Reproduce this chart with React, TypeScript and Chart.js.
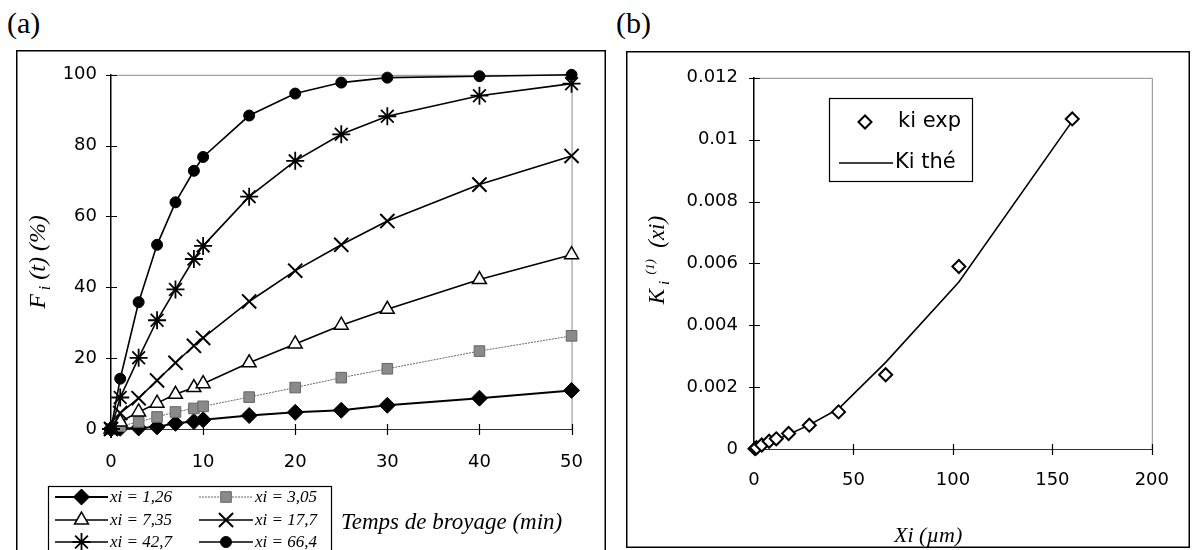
import React, { useEffect, useRef } from "react";
import { Chart, registerables } from "chart.js";
Chart.register(...registerables);

// ---------- Data: panel (a) ----------
const times = [0, 1, 3, 5, 7, 9, 10, 15, 20, 25, 30, 40, 50];
const s126 = [0, 0.2, 0.3, 0.6, 1.6, 2.1, 2.6, 3.8, 4.7, 5.3, 6.7, 8.7, 10.9];
const s305 = [0, 0.8, 2.0, 3.4, 4.8, 5.8, 6.4, 9.0, 11.7, 14.5, 17.0, 22.0, 26.3];
const s735 = [0, 2.0, 4.8, 7.3, 9.8, 11.7, 12.8, 18.7, 24.0, 29.3, 33.8, 42.2, 49.2];
const s177 = [0, 4.5, 8.7, 13.7, 18.7, 23.5, 25.7, 36.0, 44.7, 52.0, 58.7, 69.0, 77.1];
const s427 = [0, 8.9, 20.1, 30.7, 39.4, 48.0, 51.7, 65.6, 75.7, 83.2, 88.3, 94.1, 97.5];
const s664 = [0, 14.2, 35.8, 52.0, 64.0, 72.9, 76.8, 88.5, 94.7, 97.8, 99.2, 99.6, 100];
const seriesLabels = ["xi = 1,26", "xi = 3,05", "xi = 7,35", "xi = 17,7", "xi = 42,7", "xi = 66,4"];
const leftXTicks = [0, 10, 20, 30, 40, 50];
const leftYTicks = [0, 20, 40, 60, 80, 100];

// ---------- Data: panel (b) ----------
const xiExp = [0.5, 1.26, 3.9, 7.6, 11.2, 17.4, 27.8, 42.5, 66.2, 103, 160];
const kiExp = [0.00001, 0.00004, 0.00013, 0.00025, 0.00033, 0.0005, 0.00077, 0.0012, 0.0024, 0.0059, 0.01067];
const xiThe = [0, 1.26, 3.9, 7.6, 11.2, 17.4, 27.8, 42.5, 66.2, 103, 160];
const kiThe = [0, 0.00003, 0.0001, 0.0002, 0.0003, 0.00047, 0.00078, 0.0013, 0.0028, 0.0054, 0.0106];
const rightXTicks = [0, 50, 100, 150, 200];
const rightYTicks = [0, 0.002, 0.004, 0.006, 0.008, 0.01, 0.012];
const rightLegend = ["ki exp", "Ki thé"];

const SANS = '"DejaVu Sans", "Liberation Sans", Arial, sans-serif';
const SERIF = '"Liberation Serif", "Times New Roman", serif';

function drawMarker(ctx: CanvasRenderingContext2D, style: string, x: number, y: number, r: number, fill: string, stroke: string, lw: number) {
  ctx.save();
  ctx.beginPath();
  ctx.lineWidth = lw;
  ctx.fillStyle = fill;
  ctx.strokeStyle = stroke;
  const q = Math.SQRT1_2 * r;
  if (style === "circle") {
    ctx.arc(x, y, r, 0, Math.PI * 2);
    ctx.fill(); ctx.stroke();
  } else if (style === "rectRot") {
    ctx.moveTo(x - r, y); ctx.lineTo(x, y - r); ctx.lineTo(x + r, y); ctx.lineTo(x, y + r); ctx.closePath();
    ctx.fill(); ctx.stroke();
  } else if (style === "rect") {
    ctx.rect(x - q, y - q, 2 * q, 2 * q);
    ctx.fill(); ctx.stroke();
  } else if (style === "triangle") {
    ctx.moveTo(x, y - r);
    ctx.lineTo(x + Math.sin(2.0944) * r, y - Math.cos(2.0944) * r);
    ctx.lineTo(x + Math.sin(4.18879) * r, y - Math.cos(4.18879) * r);
    ctx.closePath();
    ctx.fill(); ctx.stroke();
  } else if (style === "crossRot" || style === "star") {
    ctx.moveTo(x - q, y - q); ctx.lineTo(x + q, y + q);
    ctx.moveTo(x - q, y + q); ctx.lineTo(x + q, y - q);
    if (style === "star") { ctx.moveTo(x, y - r); ctx.lineTo(x, y + r); ctx.moveTo(x - r, y); ctx.lineTo(x + r, y); }
    ctx.stroke();
  }
  ctx.restore();
}

type Seg = { t: string; font: string; dy: number };
function drawRich(ctx: CanvasRenderingContext2D, segs: Seg[], cx: number, cy: number, rotate: boolean, base: number) {
  ctx.save();
  ctx.translate(cx, cy);
  if (rotate) ctx.rotate(-Math.PI / 2);
  let total = 0;
  for (const s of segs) { ctx.font = s.font; total += ctx.measureText(s.t).width; }
  let x = -total / 2;
  ctx.fillStyle = "#000";
  ctx.textBaseline = "alphabetic";
  ctx.textAlign = "left";
  for (const s of segs) {
    ctx.font = s.font;
    ctx.fillText(s.t, x, base + s.dy);
    x += ctx.measureText(s.t).width;
  }
  ctx.restore();
}

function crossTicks(chart: any, xTicks: number[], yTicks: number[]) {
  const ctx = chart.ctx;
  const { left, right, top, bottom } = chart.chartArea;
  const xs = chart.scales.x, ys = chart.scales.y;
  ctx.save();
  ctx.strokeStyle = "#8a8a8a";
  ctx.lineWidth = 1;
  ctx.beginPath();
  ctx.moveTo(left, top + 0.5); ctx.lineTo(right + 0.5, top + 0.5); ctx.lineTo(right + 0.5, bottom);
  ctx.stroke();
  ctx.strokeStyle = "#000";
  ctx.lineWidth = 1.2;
  ctx.beginPath();
  for (const v of xTicks) {
    const px = Math.round(xs.getPixelForValue(v)) + 0.5;
    ctx.moveTo(px, bottom - 5); ctx.lineTo(px, bottom + 6);
  }
  for (const v of yTicks) {
    const py = Math.round(ys.getPixelForValue(v)) + 0.5;
    ctx.moveTo(left - 5, py); ctx.lineTo(left + 6, py);
  }
  ctx.stroke();
  ctx.restore();
}

const leftStyles = [
  { pointStyle: "rectRot", radius: 8, fill: "#000", stroke: "#000", pw: 1, lineColor: "#000", lw: 2, dash: [] as number[] },
  { pointStyle: "rect", radius: 7.5, fill: "#8a8a8a", stroke: "#666", pw: 1, lineColor: "#666", lw: 1, dash: [2, 1] },
  { pointStyle: "triangle", radius: 8, fill: "#fff", stroke: "#000", pw: 1.5, lineColor: "#000", lw: 1.6, dash: [] as number[] },
  { pointStyle: "crossRot", radius: 10, fill: "#000", stroke: "#000", pw: 2, lineColor: "#000", lw: 1.6, dash: [] as number[] },
  { pointStyle: "star", radius: 9, fill: "#000", stroke: "#000", pw: 1.8, lineColor: "#000", lw: 1.6, dash: [] as number[] },
  { pointStyle: "circle", radius: 5.5, fill: "#000", stroke: "#000", pw: 1, lineColor: "#000", lw: 1.6, dash: [] as number[] },
];

function LeftChart() {
  const ref = useRef<HTMLCanvasElement>(null);
  useEffect(() => {
    const series = [s126, s305, s735, s177, s427, s664];
    const datasets = series.map((s, i) => {
      const st = leftStyles[i];
      return {
        label: seriesLabels[i],
        data: s.map((v, j) => ({ x: times[j], y: v })),
        borderColor: st.lineColor,
        borderWidth: st.lw,
        borderDash: st.dash,
        pointStyle: st.pointStyle,
        pointRadius: st.radius,
        pointBackgroundColor: st.fill,
        pointBorderColor: st.stroke,
        pointBorderWidth: st.pw,
        tension: 0,
        clip: false,
        order: 6 - i,
      };
    });
    const plugin = {
      id: "leftDecor",
      beforeDatasetsDraw(chart: any) {
        crossTicks(chart, leftXTicks, leftYTicks);
      },
      afterDraw(chart: any) {
        const ctx = chart.ctx as CanvasRenderingContext2D;
        ctx.save();
        ctx.strokeStyle = "#000";
        ctx.lineWidth = 1.5;
        ctx.strokeRect(0.75, 0.75, chart.width - 1.5, chart.height + 20);
        drawRich(ctx, [
          { t: "F", font: `italic 24px ${SERIF}`, dy: 0 },
          { t: " i", font: `italic 16px ${SERIF}`, dy: 5 },
          { t: " (t) (%)", font: `italic 24px ${SERIF}`, dy: 0 },
        ], 21, 212, true, 8);
        ctx.font = `italic 23px ${SERIF}`;
        ctx.fillStyle = "#000";
        ctx.textAlign = "left";
        ctx.textBaseline = "alphabetic";
        ctx.fillText("Temps de broyage (min)", 325, 479);
        ctx.strokeStyle = "#000";
        ctx.lineWidth = 1.2;
        ctx.strokeRect(32.5, 436.5, 283, 80);
        const colLine = [[39, 92], [183, 237]];
        const colText = [94, 239];
        const rowY = [447, 470, 492];
        for (let i = 0; i < 6; i++) {
          const st = leftStyles[i];
          const c = i % 2, r = Math.floor(i / 2);
          const y = rowY[r];
          ctx.save();
          ctx.strokeStyle = st.lineColor;
          ctx.lineWidth = st.lw;
          ctx.setLineDash(st.dash);
          ctx.beginPath();
          ctx.moveTo(colLine[c][0], y); ctx.lineTo(colLine[c][1], y);
          ctx.stroke();
          ctx.restore();
          drawMarker(ctx, st.pointStyle, (colLine[c][0] + colLine[c][1]) / 2, y, st.radius, st.fill, st.stroke, st.pw);
          ctx.font = `italic 17px ${SERIF}`;
          ctx.fillStyle = "#000";
          ctx.textAlign = "left";
          ctx.textBaseline = "middle";
          ctx.fillText(seriesLabels[i], colText[c], y + 1);
        }
        ctx.restore();
      },
    };
    const chart = new Chart(ref.current!, {
      type: "line",
      data: { datasets: datasets as any },
      options: {
        responsive: false,
        maintainAspectRatio: false,
        animation: false,
        layout: { padding: { top: 21, right: 18, left: 0, bottom: 0 } },
        plugins: { legend: { display: false }, tooltip: { enabled: false } },
        scales: {
          x: {
            type: "linear",
            min: 0,
            max: 50,
            afterFit: (s: any) => { s.height = 121; },
            afterBuildTicks: (s: any) => { s.ticks = leftXTicks.map((v) => ({ value: v })); },
            grid: { display: false, drawTicks: false },
            border: { display: true, color: "#333", width: 1 },
            ticks: { font: { family: SANS, size: 18 }, color: "#000", padding: 23, maxRotation: 0 },
          },
          y: {
            type: "linear",
            min: 0,
            max: 100,
            afterFit: (s: any) => { s.width = 95; },
            afterBuildTicks: (s: any) => { s.ticks = leftYTicks.map((v) => ({ value: v })); },
            grid: { display: false, drawTicks: false },
            border: { display: true, color: "#000", width: 1.5 },
            ticks: { font: { family: SANS, size: 18 }, color: "#000", padding: 14 },
          },
        },
      },
      plugins: [plugin],
    });
    return () => chart.destroy();
  }, []);
  return <canvas ref={ref} width={590} height={500} style={{ position: "absolute", left: 16, top: 50, width: 590, height: 500 }} />;
}

function RightChart() {
  const ref = useRef<HTMLCanvasElement>(null);
  useEffect(() => {
    const plugin = {
      id: "rightDecor",
      beforeDatasetsDraw(chart: any) {
        crossTicks(chart, rightXTicks, rightYTicks);
      },
      afterDraw(chart: any) {
        const ctx = chart.ctx as CanvasRenderingContext2D;
        ctx.save();
        ctx.strokeStyle = "#000";
        ctx.lineWidth = 1.5;
        ctx.strokeRect(0.75, 0.75, chart.width - 1.5, chart.height - 1.5);
        drawRich(ctx, [
          { t: "K", font: `italic 23px ${SERIF}`, dy: 0 },
          { t: " i", font: `italic 15px ${SERIF}`, dy: 5 },
          { t: "  (1)", font: `italic 13px ${SERIF}`, dy: -10 },
          { t: "  (xi)", font: `italic 23px ${SERIF}`, dy: 0 },
        ], 31, 209, true, 7);
        ctx.font = `italic 22px ${SERIF}`;
        ctx.fillStyle = "#000";
        ctx.textAlign = "left";
        ctx.textBaseline = "alphabetic";
        ctx.fillText("Xi (µm)", 268, 491);
        ctx.fillStyle = "#fff";
        ctx.fillRect(203, 47, 143, 83);
        ctx.strokeStyle = "#000";
        ctx.lineWidth = 1.2;
        ctx.strokeRect(203.5, 47.5, 143, 83);
        drawMarker(ctx, "rectRot", 239, 71, 6.5, "#fff", "#000", 2);
        ctx.beginPath();
        ctx.lineWidth = 1.5;
        ctx.moveTo(213, 112); ctx.lineTo(267, 112);
        ctx.stroke();
        ctx.font = `21px ${SANS}`;
        ctx.fillStyle = "#000";
        ctx.textAlign = "left";
        ctx.textBaseline = "middle";
        ctx.fillText(rightLegend[0], 272, 71);
        ctx.fillText(rightLegend[1], 269, 112);
        ctx.restore();
      },
    };
    const chart = new Chart(ref.current!, {
      type: "line",
      data: {
        datasets: [
          {
            label: rightLegend[0],
            data: xiExp.map((x, i) => ({ x, y: kiExp[i] })),
            showLine: false,
            pointStyle: "rectRot",
            pointRadius: 6.5,
            pointBackgroundColor: "#fff",
            pointBorderColor: "#000",
            pointBorderWidth: 2,
            clip: false,
            order: 0,
          },
          {
            label: rightLegend[1],
            data: xiThe.map((x, i) => ({ x, y: kiThe[i] })),
            borderColor: "#000",
            borderWidth: 1.6,
            pointRadius: 0,
            tension: 0,
            order: 1,
          },
        ] as any,
      },
      options: {
        responsive: false,
        maintainAspectRatio: false,
        animation: false,
        layout: { padding: { top: 19, right: 18, left: 0, bottom: 0 } },
        plugins: { legend: { display: false }, tooltip: { enabled: false } },
        scales: {
          x: {
            type: "linear",
            min: 0,
            max: 200,
            afterFit: (s: any) => { s.height = 99; },
            afterBuildTicks: (s: any) => { s.ticks = rightXTicks.map((v) => ({ value: v })); },
            grid: { display: false, drawTicks: false },
            border: { display: true, color: "#333", width: 1 },
            ticks: { font: { family: SANS, size: 18 }, color: "#000", padding: 21, maxRotation: 0 },
          },
          y: {
            type: "linear",
            min: 0,
            max: 0.012,
            afterFit: (s: any) => { s.width = 128; },
            afterBuildTicks: (s: any) => { s.ticks = rightYTicks.map((v) => ({ value: v })); },
            grid: { display: false, drawTicks: false },
            border: { display: true, color: "#000", width: 1.5 },
            ticks: {
              font: { family: SANS, size: 18 },
              color: "#000",
              padding: 16,
              callback: (v: any) => String(Number(Number(v).toFixed(3))),
            },
          },
        },
      },
      plugins: [plugin],
    });
    return () => chart.destroy();
  }, []);
  return <canvas ref={ref} width={564} height={497} style={{ position: "absolute", left: 626, top: 51, width: 564, height: 497 }} />;
}

export default function App() {
  return (
    <div style={{ position: "absolute", left: 0, top: 0, width: 1197, height: 550, overflow: "hidden", background: "#fff" }}>
      <div style={{ position: "absolute", left: 7, top: 8, fontFamily: SERIF, fontSize: 30, lineHeight: "30px" }}>(a)</div>
      <div style={{ position: "absolute", left: 616, top: 8, fontFamily: SERIF, fontSize: 30, lineHeight: "30px" }}>(b)</div>
      <LeftChart />
      <RightChart />
    </div>
  );
}
